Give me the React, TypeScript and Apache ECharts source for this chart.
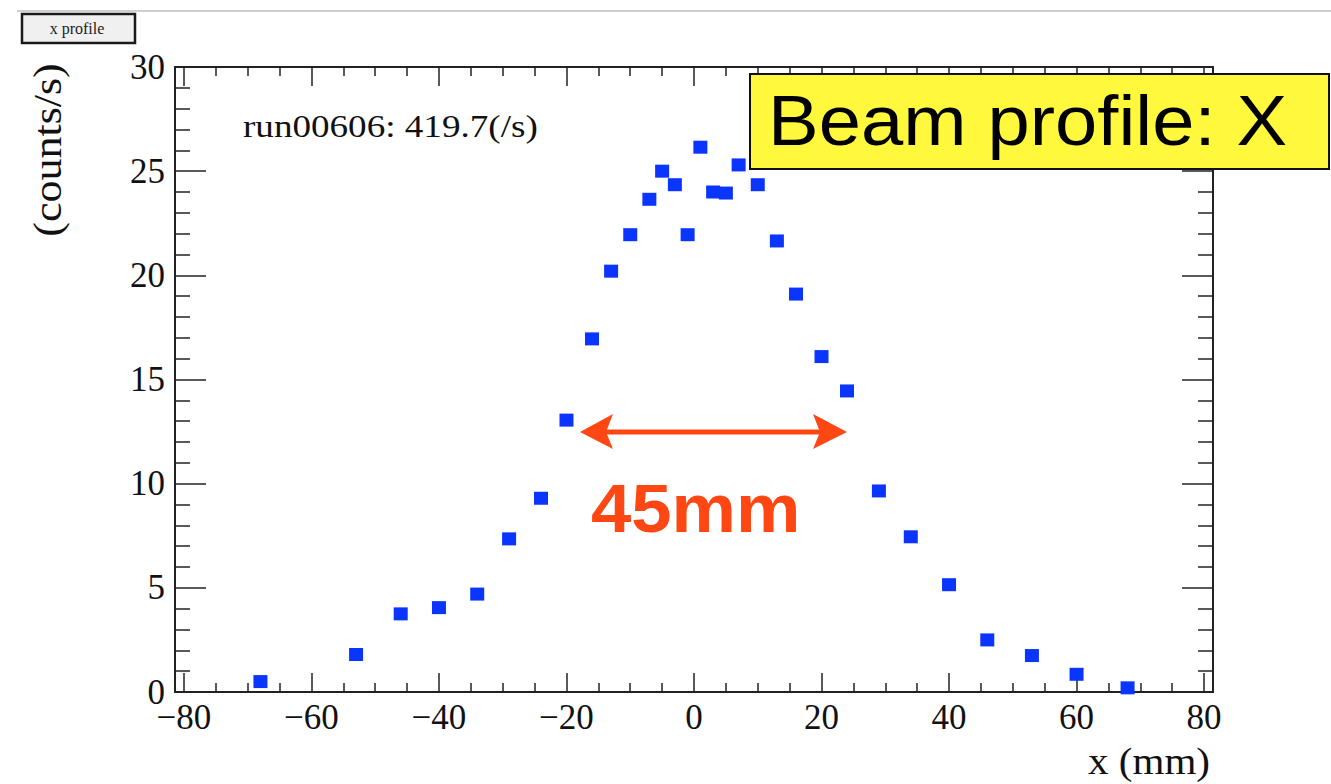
import React, { useEffect, useRef } from "react";
import * as echarts from "echarts";

// Beam profile X data (x in mm, rate in counts/s)
const xPositions = [-68, -53, -46, -40, -34, -29, -24, -20, -16, -13, -10, -7, -5, -3, -1, 1, 3, 5, 7, 10, 13, 16, 20, 24, 29, 34, 40, 46, 53, 60, 68];
const rates = [0.5, 1.8, 3.75, 4.05, 4.7, 7.35, 9.3, 13.05, 16.95, 20.2, 21.95, 23.65, 25.0, 24.35, 21.95, 26.15, 24.0, 23.95, 25.3, 24.35, 21.65, 19.1, 16.1, 14.45, 9.65, 7.45, 5.15, 2.5, 1.75, 0.85, 0.2];

const xMajorTicks = [-80, -60, -40, -20, 0, 20, 40, 60, 80];
const xMinorTicks = [-75, -70, -65, -55, -50, -45, -35, -30, -25, -15, -10, -5, 5, 10, 15, 25, 30, 35, 45, 50, 55, 65, 70, 75];
const yMajorTicks = [0, 5, 10, 15, 20, 25, 30];
const yMinorTicks = [1, 2, 3, 4, 6, 7, 8, 9, 11, 12, 13, 14, 16, 17, 18, 19, 21, 22, 23, 24, 26, 27, 28, 29];

const runLabel = "run00606: 419.7(/s)";
const boxTitle = "Beam profile: X";
const widthLabel = "45mm";
const xTitle = "x (mm)";
const yTitle = "(counts/s)";
const buttonLabel = "x profile";

const SERIF = "'Liberation Serif', 'Times New Roman', serif";
const SANS = "'Liberation Sans', Arial, sans-serif";
const RED = "#ff4714";

const fmt = (v: number) => (v < 0 ? "\u2212" + Math.abs(v) : String(v));

function xAxisDef(position: "top" | "bottom", ticks: number[], len: number, labels: boolean, line: boolean) {
  return {
    type: "value",
    position,
    min: -81.4,
    max: 81.4,
    axisLine: { show: line, onZero: false, lineStyle: { color: "#222", width: 2 } },
    axisTick: { show: true, inside: true, length: len, customValues: ticks, lineStyle: { color: "#222", width: 1.5 } },
    axisLabel: labels
      ? { show: true, customValues: ticks, formatter: fmt, fontFamily: SERIF, fontSize: 35, color: "#111", margin: 8 }
      : { show: false },
    splitLine: { show: false },
  };
}

function yAxisDef(position: "left" | "right", ticks: number[], len: number, labels: boolean, line: boolean) {
  return {
    type: "value",
    position,
    min: 0,
    max: 30,
    axisLine: { show: line, onZero: false, lineStyle: { color: "#222", width: 2 } },
    axisTick: { show: true, inside: true, length: len, customValues: ticks, lineStyle: { color: "#222", width: 1.5 } },
    axisLabel: labels
      ? { show: true, customValues: ticks, formatter: fmt, fontFamily: SERIF, fontSize: 35, color: "#111", margin: 10 }
      : { show: false },
    splitLine: { show: false },
  };
}

export default function App() {
  const ref = useRef<HTMLDivElement>(null);

  useEffect(() => {
    if (!ref.current) return;
    const chart = echarts.init(ref.current, undefined, { renderer: "svg" });
    const data = xPositions.map((x, i) => [x, rates[i]]);
    chart.setOption({
      animation: false,
      backgroundColor: "#ffffff",
      grid: { left: 175, right: 118, top: 67, bottom: 92, containLabel: false },
      xAxis: [
        xAxisDef("bottom", xMajorTicks, 19, true, true),
        xAxisDef("bottom", xMinorTicks, 9, false, false),
        xAxisDef("top", xMajorTicks, 19, false, true),
        xAxisDef("top", xMinorTicks, 9, false, false),
      ],
      yAxis: [
        yAxisDef("left", yMajorTicks, 31, true, true),
        yAxisDef("left", yMinorTicks, 15, false, false),
        yAxisDef("right", yMajorTicks, 31, false, true),
        yAxisDef("right", yMinorTicks, 15, false, false),
      ],
      series: [
        {
          type: "scatter",
          xAxisIndex: 0,
          yAxisIndex: 0,
          symbol: "rect",
          symbolSize: [14, 13],
          itemStyle: { color: "#0a35ff", opacity: 1 },
          data,
          z: 5,
        },
      ],
      graphic: [
        { type: "line", shape: { x1: 17, y1: 11, x2: 1331, y2: 11 }, style: { stroke: "#cfcfcf", lineWidth: 2 } },
        { type: "rect", shape: { x: 22, y: 14, width: 113, height: 29 }, style: { fill: "#f0f0f0", stroke: "#1a1a1a", lineWidth: 2.5 } },
        { type: "text", x: 77, y: 28, style: { text: buttonLabel, font: `16px ${SERIF}`, fill: "#222", align: "center", verticalAlign: "middle" } },
        { type: "text", x: 243, y: 126, scaleX: 1.16, style: { text: runLabel, font: `32px ${SERIF}`, fill: "#111", align: "left", verticalAlign: "middle" } },
        { type: "text", x: 48, y: 150, rotation: Math.PI / 2, scaleX: 1.1, style: { text: yTitle, font: `40px ${SERIF}`, fill: "#111", align: "center", verticalAlign: "middle" } },
        { type: "text", x: 1210, y: 762, scaleX: 1.08, style: { text: xTitle, font: `38px ${SERIF}`, fill: "#111", align: "right", verticalAlign: "middle" } },
        { type: "rect", z: 100, shape: { x: 750, y: 74, width: 579, height: 95 }, style: { fill: "#fff83c", stroke: "#111", lineWidth: 2 } },
        { type: "text", z: 101, x: 768, y: 120, scaleX: 1.07, style: { text: boxTitle, font: `71px ${SANS}`, fill: "#000", align: "left", verticalAlign: "middle" } },
        { type: "line", z: 100, shape: { x1: 600, y1: 432, x2: 826, y2: 432 }, style: { stroke: RED, lineWidth: 5 } },
        { type: "polygon", z: 100, shape: { points: [[580, 432], [613, 414], [606, 432], [613, 449]] }, style: { fill: RED } },
        { type: "polygon", z: 100, shape: { points: [[847, 432], [813, 414], [820, 432], [813, 449]] }, style: { fill: RED } },
        { type: "text", z: 100, x: 591, y: 508, scaleX: 1.05, style: { text: widthLabel, font: `bold 69px ${SANS}`, fill: RED, align: "left", verticalAlign: "middle" } },
      ],
    });
    return () => chart.dispose();
  }, []);

  return <div ref={ref} style={{ position: "absolute", left: 0, top: 0, width: 1331, height: 784 }} />;
}
